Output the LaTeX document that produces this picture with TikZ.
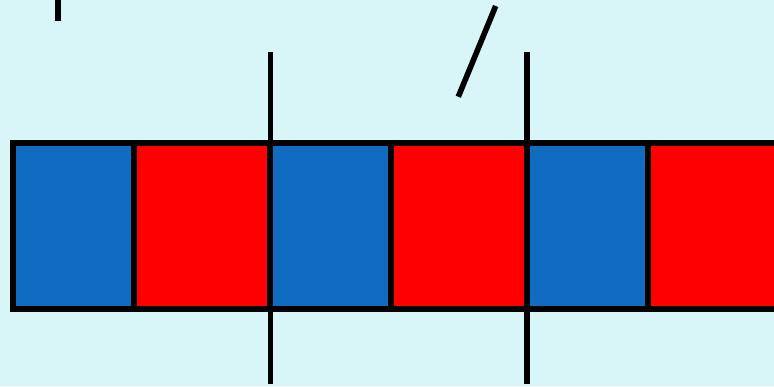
\documentclass[tikz,border=0pt]{standalone}
\usetikzlibrary{positioning}
\definecolor{skybg}{RGB}{216,245,248}
\definecolor{cellblue}{RGB}{16,108,192}
\definecolor{cellred}{RGB}{255,0,0}
\tikzset{
  cell/.style={draw=black, line width=5.4pt, minimum height=166pt,
               inner sep=0pt, outer sep=0pt},
  bluecell/.style={cell, fill=cellblue, minimum width=121pt},
  redcell/.style ={cell, fill=cellred,  minimum width=136pt},
  stick/.style   ={line width=5.6pt, black},
}

\begin{document}
\begin{tikzpicture}[x=1pt, y=-1pt]

% background and frame
\fill[skybg] (0,0) rectangle (774,386);
\clip (0,0) rectangle (774,386);

% row of cells
\node[bluecell, anchor=north west] (b1) at (13,143) {};
\node[redcell,  right=0pt of b1] (r1) {};
\node[bluecell, right=0pt of r1] (b2) {};
\node[redcell,  right=0pt of b2] (r2) {};
\node[bluecell, right=0pt of r2] (b3) {};
\node[redcell,  right=0pt of b3] (r3) {};

% sticks through the row
\coordinate (s1top) at (270.5,52);
\coordinate (s1bot) at (270.5,384);
\coordinate (s2top) at (527,52);
\coordinate (s2bot) at (527,384);
\draw[stick] (s1top) -- (s1bot);
\draw[stick] (s2top) -- (s2bot);

% loose strokes above
\coordinate (ticktop) at (58,-2);
\coordinate (tickbot) at (58,21);
\draw[stick] (ticktop) -- (tickbot);
\coordinate (slanttop) at (495.7,6);
\coordinate (slantbot) at (458.3,96.7);
\draw[stick] (slanttop) -- (slantbot);

\end{tikzpicture}
\end{document}
